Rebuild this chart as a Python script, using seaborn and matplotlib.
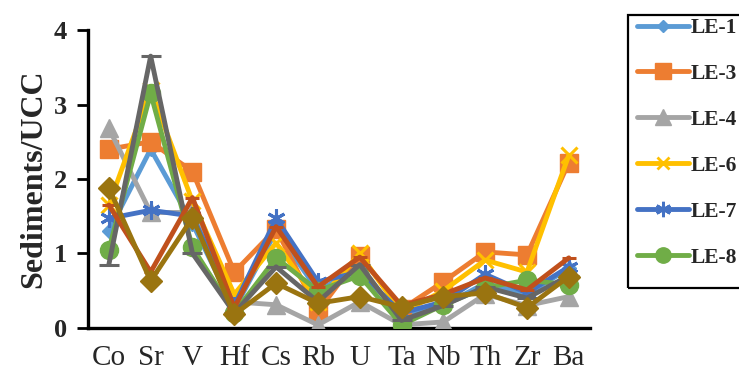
import numpy as np
import pandas as pd
import matplotlib
matplotlib.use("Agg")
import matplotlib.pyplot as plt
from matplotlib.ticker import FixedLocator, NullFormatter
from matplotlib.lines import Line2D
from matplotlib.patches import Rectangle
import seaborn as sns

# Trace elements normalised to upper continental crust
elements = ["Co", "Sr", "V", "Hf", "Cs", "Rb", "U", "Ta", "Nb", "Th", "Zr", "Ba"]

le1 = [1.30, 2.40, 1.40, 0.25, 1.30, 0.50, 0.80, 0.15, 0.30, 0.60, 0.45, 0.80]
le3 = [2.40, 2.50, 2.10, 0.75, 1.33, 0.22, 0.97, 0.25, 0.62, 1.02, 0.98, 2.22]
le4 = [2.68, 1.55, 1.55, 0.35, 0.31, 0.04, 0.35, 0.04, 0.08, 0.45, 0.30, 0.42]
le6 = [1.65, 3.20, 1.70, 0.45, 1.14, 0.35, 1.00, 0.20, 0.50, 0.91, 0.75, 2.32]
le7 = [1.47, 1.58, 1.50, 0.30, 1.47, 0.62, 0.75, 0.20, 0.35, 0.72, 0.47, 0.82]
le8 = [1.05, 3.15, 1.08, 0.20, 0.94, 0.50, 0.70, 0.04, 0.31, 0.54, 0.64, 0.58]
le9 = [0.85, 3.65, 1.00, 0.20, 0.82, 0.35, 0.85, 0.10, 0.30, 0.55, 0.40, 0.70]
le10 = [1.65, 0.75, 1.75, 0.27, 1.36, 0.55, 0.95, 0.30, 0.45, 0.67, 0.51, 0.94]
le11 = [1.88, 0.63, 1.48, 0.18, 0.60, 0.33, 0.42, 0.28, 0.42, 0.47, 0.27, 0.69]

legend_labels = ["LE-1", "LE-3", "LE-4", "LE-6", "LE-7", "LE-8"]

series = [
    # (values, colour, marker, marker size, in legend)
    (le1, "#5B9BD5", "D", 7, True),
    (le3, "#ED7D31", "s", 13, True),
    (le4, "#A5A5A5", "^", 13, True),
    (le6, "#FFC000", "x", 11, True),
    (le7, "#4472C4", (6, 2, 0), 13, True),
    (le8, "#70AD47", "o", 13, True),
    (le9, "#666666", "_", 14, False),
    (le10, "#C0501C", "_", 10, False),
    (le11, "#9A7410", "D", 11, False),
]

sns.set_style("white")
plt.rcParams["font.family"] = ["Liberation Serif", "DejaVu Serif"]

W, H = 739, 376
fig = plt.figure(figsize=(W / 100, H / 100), dpi=100)
ax = fig.add_axes([0.119, 0.128, 0.679, 0.792])

pos = np.arange(len(elements))
handles = []
for i, (vals, col, mk, ms, show) in enumerate(series):
    df = pd.DataFrame({"pos": pos, "value": vals})
    sns.lineplot(data=df, x="pos", y="value", ax=ax, color=col, linewidth=3.5,
                 marker=mk, markersize=ms, markeredgecolor=col,
                 markeredgewidth=2.2 if mk in ("x", "_", (6, 2, 0)) else 1.0,
                 sort=False, legend=False, zorder=2 + i)
    if show:
        handles.append(Line2D([], [], color=col, linewidth=3.5, marker=mk,
                              markersize=ms * 0.85, markeredgecolor=col,
                              markeredgewidth=2.0 if mk in ("x", (6, 2, 0)) else 1.0))

ax.set_xlim(-0.5, len(elements) - 0.5)
ax.set_ylim(0, 4)
ax.set_xticks(pos)
ax.set_xticklabels(elements, fontsize=21)
ax.xaxis.set_minor_locator(FixedLocator(np.arange(-0.5, len(elements), 1.0)))
ax.xaxis.set_minor_formatter(NullFormatter())
ax.tick_params(axis="x", which="major", length=0, pad=12)
ax.tick_params(axis="x", which="minor", length=8, width=2, direction="out", color="black")
ax.set_yticks([0, 1, 2, 3, 4])
ax.set_yticklabels(["0", "1", "2", "3", "4"], fontsize=19, fontweight="bold")
ax.tick_params(axis="y", length=8, width=2, direction="out", color="black", pad=7, left=True)
ax.set_xlabel("")
ax.set_ylabel("Sediments/UCC", fontsize=23, fontweight="bold", labelpad=4)

for side in ("top", "right"):
    ax.spines[side].set_visible(False)
for side in ("left", "bottom"):
    ax.spines[side].set_color("black")
    ax.spines[side].set_linewidth(2.4)

# Legend entries without a frame; the box is drawn separately so it can run
# past the right edge of the figure
leg = fig.legend(handles, legend_labels, loc="upper left",
                 bbox_to_anchor=(637 / W, 1 - 18 / H),
                 prop={"family": ["Liberation Serif"], "weight": "bold", "size": 15.5},
                 frameon=False, handlelength=2.4, handletextpad=0.08,
                 labelspacing=1.2, borderpad=0, borderaxespad=0)
fig.patches.append(Rectangle((628 / W, 1 - 288 / H), 130 / W, 273 / H,
                             transform=fig.transFigure, fill=False,
                             edgecolor="black", linewidth=1.6, zorder=5))

fig.savefig("out.png", dpi=100)
